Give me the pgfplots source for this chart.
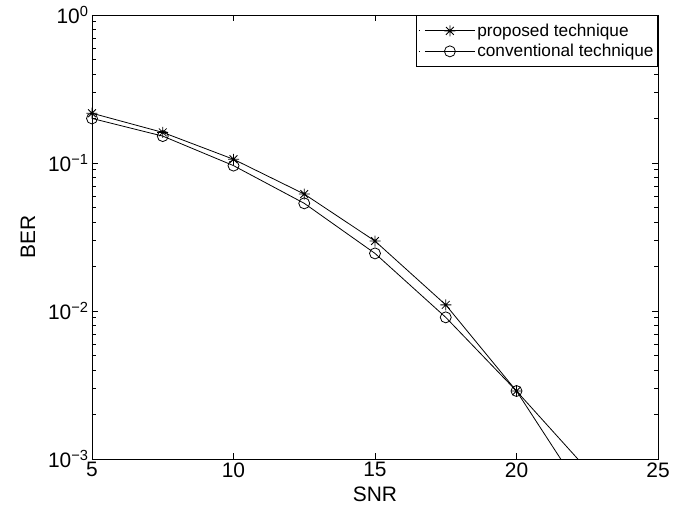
\documentclass[border=0pt]{standalone}
\usepackage{fontspec}
\setmainfont{Liberation Sans}
\usepackage{pgfplots}
\pgfplotsset{compat=1.18}

% MATLAB-style '*' marker: plus and cross laid over each other
\pgfdeclareplotmark{matstar}{%
  \pgfpathmoveto{\pgfqpoint{-\pgfplotmarksize}{0pt}}%
  \pgfpathlineto{\pgfqpoint{\pgfplotmarksize}{0pt}}%
  \pgfpathmoveto{\pgfqpoint{0pt}{-\pgfplotmarksize}}%
  \pgfpathlineto{\pgfqpoint{0pt}{\pgfplotmarksize}}%
  \pgfpathmoveto{\pgfqpoint{-0.707\pgfplotmarksize}{-0.707\pgfplotmarksize}}%
  \pgfpathlineto{\pgfqpoint{0.707\pgfplotmarksize}{0.707\pgfplotmarksize}}%
  \pgfpathmoveto{\pgfqpoint{-0.707\pgfplotmarksize}{0.707\pgfplotmarksize}}%
  \pgfpathlineto{\pgfqpoint{0.707\pgfplotmarksize}{-0.707\pgfplotmarksize}}%
  \pgfusepathqstroke}

\pgfplotsset{
    matlegend/.style={legend image code/.code={%
        \path (0bp,0bp) -- (1bp,0bp);
        \draw[mark repeat=2,mark phase=2] plot coordinates {(6bp,0bp) (31bp,0bp) (56bp,0bp)};}},
}

\begin{document}
\begin{tikzpicture}
\path[use as bounding box] (-92bp,-55bp) rectangle (594bp,459bp);
\begin{semilogyaxis}[
    scale only axis,
    width=566bp, height=444bp,
    xmin=5, xmax=25,
    ymin=1e-3, ymax=1,
    xtick={5,10,15,20,25},
    ytick={1e-3,1e-2,1e-1,1},
    yticklabels={10\textsuperscript{−3},10\textsuperscript{−2},10\textsuperscript{−1},10\textsuperscript{0}},
    /pgf/number format/assume math mode=true,
    tick label style={font=\fontsize{21}{24}\selectfont},
    label style={font=\fontsize{21}{24}\selectfont},
    xlabel={SNR}, ylabel={BER},
    xlabel style={yshift=-3bp},
    ylabel style={yshift=6bp},
    axis line style={line width=0.8bp},
    major tick length=6bp, minor tick length=4bp,
    every tick/.style={black, line width=0.6bp},
    legend cell align=left,
    legend style={at={(1,1)}, anchor=north east, draw=black, line width=0.8bp,
        font=\fontsize{17.3}{19}\selectfont, inner xsep=2bp, inner ysep=6.5bp,
        row sep=2.5bp},
]
\addplot[black, line width=0.8bp, mark=matstar, mark size=5.5bp,
    mark options={line width=0.8bp}, matlegend] coordinates {
    (5,0.217) (7.5,0.161) (10,0.106) (12.5,0.0617) (15,0.0297)
    (17.5,0.0110) (20,0.00288) (22.5,0.00053)
};
\addlegendentry{proposed technique}
\addplot[black, line width=0.8bp, mark=o, mark size=5.5bp,
    mark options={line width=0.8bp}, matlegend] coordinates {
    (5,0.200) (7.5,0.152) (10,0.096) (12.5,0.0534) (15,0.0245)
    (17.5,0.00906) (20,0.00288) (22.5,0.00085)
};
\addlegendentry{conventional technique}
\end{semilogyaxis}
\end{tikzpicture}
\end{document}
